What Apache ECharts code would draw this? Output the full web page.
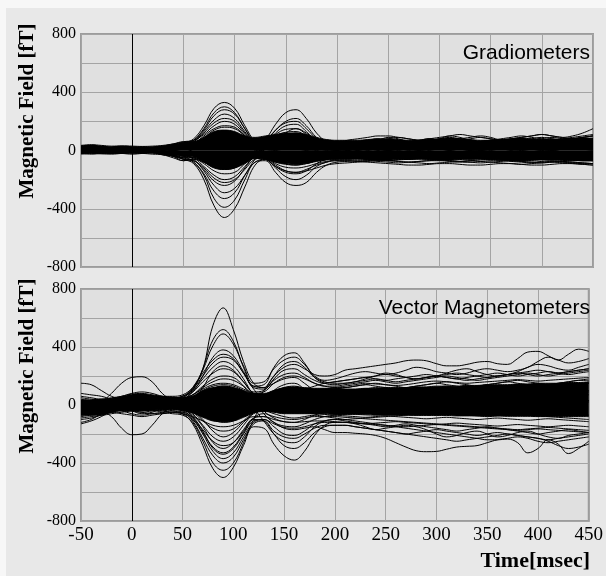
<!DOCTYPE html>
<html lang="en">
<head>
    <meta charset="UTF-8">
    <title>MEG butterfly plot</title>
    <script src="https://cdn.jsdelivr.net/npm/echarts@6/dist/echarts.min.js"></script>
    <style>
        html, body { margin: 0; padding: 0; background: #f7f7f7; }
        #bg { position: absolute; left: 6px; top: 8px; width: 600px; height: 568px; background: #e8e8e8; }
        #main { position: absolute; left: 0; top: 0; width: 606px; height: 576px; }
    </style>
</head>
<body>
<div id="bg"></div>
<div id="main"></div>

<script>
    // time axis (msec), one sample every 10 ms
    var times = [-50,-40,-30,-20,-10,0,10,20,30,40,50,60,70,80,90,100,110,120,130,140,150,160,170,180,190,200,
        210,220,230,240,250,260,270,280,290,300,310,320,330,340,350,360,370,380,390,400,410,420,430,440,450];

    // dense band of the gradiometer traces (upper / lower edge)
    var gradCoreHi = [35,40,35,30,32,30,28,30, 35,45,55,60,90,130,140,130,100,90,100,110,120,120,110,90,75,70,
        70,70,75,80,80,75,70,70,75,80, 85,80,75,70,70,75,80,85,80,75, 75,80,85,85,85];
    var gradCoreLo = [-15,-15,-18,-20,-18,-15,-15,-18, -25,-35,-40,-45,-80,-120,-130,-120,-90,-55,-60,-80,-90,-95,-90,-75,-65,-60,
        -60,-60,-62,-65,-65,-62,-60,-60,-62,-65, -65,-62,-60,-60,-62,-65,-68,-70,-68,-65, -65,-68,-70,-70,-70];

    // single gradiometer channels (fT)
    var g01 = [10,15,12,8,10,12,15,10, 20,30,50,80,170,290,330,290,170,60,20,60,120,150,110,50,30,20, 30,50,60,70,90,80,60,50,60,80, 100,90,70,60,60,70,80,90,100,110, 100,90,100,120,150];
    var g02 = [-5,-10,-8,-5,-10,-8,-5,-10, -15,-30,-60,-90,-200,-380,-460,-400,-250,-100,-60,-120,-180,-200,-170,-110,-80,-70, -70,-75,-80,-85,-90,-95,-100,-100,-95,-90, -90,-95,-100,-100,-95,-90,-90,-95,-100,-100, -95,-90,-90,-95,-100];
    var g03 = [20,18,15,12,10,12,15,10, 0,-20,-40,-80,-170,-330,-390,-340,-200,-80,-70,-150,-220,-240,-220,-150,-100,-80, -75,-70,-70,-75,-80,-85,-80,-75,-70,-70, -75,-80,-80,-75,-70,-70,-75,-80,-85,-80, -75,-80,-85,-90,-90];
    var g04 = [25,28,20,18,22,20,18,15, 20,30,40,70,150,260,300,260,150,60,80,180,260,280,220,120,60,40, 40,50,60,70,80,90,80,70,60,60, 70,80,90,100,90,70,60,60,70,80, 90,80,70,70,80];
    var g05 = [0,5,10,5,0,5,10,5, 10,20,40,60,130,210,250,220,130,50,60,140,200,220,170,90,50,40, 50,60,70,60,50,50,60,70,80,70, 60,50,50,60,70,60,50,50,60,70, 80,70,60,60,70];
    var g06 = [-15,-10,-12,-15,-10,-12,-15,-10, -20,-30,-50,-80,-160,-280,-330,-290,-170,-60,10,60,100,120,90,40,10,0, -10,-20,-30,-40,-30,-20,-10,-20,-30,-40, -50,-40,-30,-20,-30,-40,-50,-60,-50,-40, -30,-40,-50,-60,-60];
    var g07 = [5,0,-5,0,5,0,-5,0, -10,-20,-30,-60,-140,-240,-290,-260,-170,-80,-60,-100,-140,-150,-130,-100,-80,-60, -60,-55,-60,-65,-60,-50,-45,-50,-55,-60, -60,-55,-50,-45,-50,-55,-60,-60,-55,-50, -55,-60,-65,-70,-70];
    var g08 = [15,10,8,10,12,10,8,10, 20,40,60,70,110,170,200,180,110,40,-20,-60,-90,-100,-80,-40,-10,0, 10,20,30,40,50,40,30,20,30,40, 50,60,50,40,30,20,30,40,50,40, 30,40,50,60,60];
    var g09 = [-20,-18,-22,-20,-15,-18,-20,-15, -20,-30,-60,-70,-130,-210,-240,-210,-120,-30,40,120,170,180,130,60,20,10, 0,10,20,10,0,-10,0,10,20,30, 20,10,0,10,20,30,40,30,20,10, 20,30,40,30,20];
    var g10 = [30,25,20,22,25,20,18,20, 30,45,60,60,90,140,160,150,100,40,30,60,90,100,80,40,20,20, 30,40,50,60,70,60,50,50,60,70, 80,70,60,50,50,60,70,60,50,50, 60,70,80,90,100];
    var g11 = [0,-5,-10,-5,0,-5,-10,-5, -20,-40,-70,-60,-110,-170,-200,-180,-110,-40,-20,-40,-55,-60,-50,-30,-20,-20, -20,-15,-10,-20,-30,-25,-20,-15,-20,-25, -30,-20,-10,-15,-20,-25,-30,-25,-20,-15, -20,-25,-30,-35,-40];
    var g12 = [10,12,15,12,10,8,10,12, 10,0,-10,10,60,100,120,110,70,20,-20,-50,-70,-80,-60,-30,-10,0, 10,0,-10,0,10,20,10,0,10,20, 30,20,10,0,10,20,10,0,10,20, 30,20,10,20,30];
    var g13 = [-10,-5,0,-5,-10,-5,0,-5, -10,-20,-40,-50,-90,-140,-160,-150,-90,-30,10,40,55,60,50,30,20,10, 10,0,-10,-20,-10,0,10,0,-10,-20, -30,-20,-10,0,-10,-20,-30,-20,-10,0, -10,-20,-30,-20,-10];
    var g14 = [20,15,10,15,20,15,10,15, 20,25,20,30,50,70,80,75,50,20,20,30,40,40,30,20,30,50, 70,80,90,100,100,90,80,70,80,90, 100,110,100,90,80,70,80,90,100,110, 100,90,80,90,100];
    var g15 = [-25,-20,-22,-25,-20,-18,-20,-25, -30,-50,-70,-60,-80,-110,-120,-110,-80,-50,-60,-110,-140,-150,-140,-120,-100,-90, -85,-80,-75,-70,-70,-75,-80,-85,-90,-85, -80,-75,-70,-75,-80,-85,-90,-95,-90,-85, -80,-85,-90,-95,-100];
    var g16 = [-5,0,5,0,-5,0,5,0, 10,20,30,40,50,60,60,50,30,10,-10,-20,-30,-30,-20,-10,0,10, 20,30,20,10,0,10,20,30,20,10, 0,-10,0,10,20,30,40,30,20,10, 0,10,20,30,40];
    var g17 = [10,5,0,5,10,5,0,5, 0,-10,-20,-30,-50,-70,-80,-70,-40,0,60,140,190,200,150,80,40,30, 30,40,50,40,30,40,50,60,70,60, 50,40,30,40,50,60,50,40,30,40, 50,60,70,60,50];
    var g18 = [0,5,10,8,5,0,5,10, 5,0,10,20,30,40,40,30,20,10,10,20,20,20,10,0,-10,-10, 0,10,0,-10,0,10,20,10,0,-10, 0,10,20,10,0,-10,0,10,20,10, 0,10,20,10,0];
    var g19 = [15,20,25,20,15,20,25,20, 10,0,-10,-20,-30,-40,-40,-35,-25,-15,-20,-25,-30,-30,-25,-20,-20,-30, -40,-50,-40,-30,-40,-50,-60,-50,-40,-30, -40,-50,-60,-50,-40,-50,-60,-70,-60,-50, -40,-50,-60,-70,-70];
    var g20 = [-10,-8,-5,-8,-10,-12,-10,-8, 0,20,50,70,140,240,280,250,150,50,10,0,-10,-10,0,10,20,30, 40,30,20,30,40,50,40,30,20,30, 40,50,60,50,40,30,40,50,60,50, 40,30,40,50,60];
    var g21 = [5,10,15,10,5,10,15,10, 15,25,40,60,120,190,220,200,120,50,50,100,125,130,100,50,30,20, 30,40,50,40,30,40,50,60,50,40, 30,40,50,60,70,60,50,40,50,60, 70,60,50,60,70];
    var g22 = [-5,-8,-10,-12,-10,-8,-5,-8, -20,-40,-60,-70,-120,-190,-220,-200,-130,-60,-50,-80,-95,-100,-90,-70,-60,-50, -50,-45,-40,-45,-50,-55,-60,-55,-50,-45, -40,-45,-50,-55,-60,-65,-60,-55,-50,-45, -50,-55,-60,-65,-70];
    var g23 = [20,18,15,18,20,22,20,18, 10,10,20,40,70,90,100,90,60,10,-50,-110,-150,-160,-140,-90,-60,-50, -50,-55,-60,-65,-70,-65,-60,-55,-60,-65, -70,-75,-70,-65,-60,-65,-70,-75,-80,-75, -70,-75,-80,-85,-90];
    var g24 = [-20,-15,-10,-15,-20,-15,-10,-15, -25,-35,-50,-50,-70,-90,-100,-90,-60,-10,50,110,145,150,120,70,50,40, 50,60,70,80,70,60,50,60,70,80, 90,80,70,60,70,80,90,100,90,80, 70,80,90,100,110];
    var g25 = [10,15,20,15,10,15,20,15, 20,30,40,50,100,150,170,160,100,40,30,50,65,70,60,40,30,30, 40,50,60,70,60,50,60,70,80,70, 60,70,80,90,80,70,60,70,80,90, 80,70,80,90,100];
    var g26 = [-20,-25,-20,-15,-20,-25,-20,-15, -30,-40,-50,-50,-80,-115,-130,-120,-80,-40,-50,-90,-115,-120,-110,-90,-75,-70, -70,-75,-70,-65,-70,-75,-80,-75,-70,-65, -70,-75,-80,-85,-80,-75,-70,-75,-80,-85, -80,-75,-80,-85,-90];

    // dense band of the vector magnetometer traces
    var vecCoreHi = [35,35,40,45,60,75,80,70, 60,55,50,60,100,120,130,120,100,80,80,100,120,125,120,115,115,115,
        110,110,115,115,120,120,120,125,125,130, 130,130,135,135,140,140,140,145,145,150, 150,150,155,155,160];
    var vecCoreLo = [-70,-70,-65,-50,-40,-40,-40,-35, -30,-30,-40,-55,-85,-110,-115,-110,-85,-55,-45,-50,-60,-60,-60,-60,-60,-65,
        -65,-65,-68,-70,-70,-70,-70,-72,-72,-72, -72,-75,-75,-75,-75,-75,-78,-78,-78,-80, -80,-80,-80,-80,-80];

    // single vector magnetometer channels (fT)
    var v01 = [0,10,20,10,0,20,30,20, 10,20,40,120,250,550,670,520,300,150,120,150,180,190,150,100,80,80, 90,100,110,120,110,100,90,100,110,120, 130,120,110,100,110,120,130,140,130,120, 110,120,130,140,150];
    var v02 = [-20,-10,0,10,20,40,50,40, 20,10,30,100,250,450,520,440,260,130,140,260,340,360,290,190,150,140, 150,160,180,200,220,210,190,180,190,200, 220,240,250,230,210,200,210,230,260,280, 270,250,240,260,280];
    var v03 = [30,20,10,20,40,60,70,60, 40,30,50,110,240,410,490,420,270,150,160,250,310,330,280,200,170,180, 200,220,230,220,210,220,240,260,250,230, 220,210,220,240,250,240,230,240,260,300, 330,310,290,300,320];
    var v04 = [150,140,100,60,40,30,40,50, 60,60,70,120,220,310,350,320,220,130,120,200,260,280,250,210,200,210, 240,250,260,270,280,290,305,310,305,285, 270,270,280,295,300,285,280,320,365,370, 340,310,350,385,370];
    var v05 = [-20,-10,20,80,150,190,195,160, 80,30,0,30,120,230,270,240,160,80,60,90,120,130,110,80,60,60, 70,80,70,60,50,60,70,80,90,80, 70,60,50,60,70,80,70,60,50,60, 70,80,90,80,70];
    var v06 = [-20,-30,-40,-80,-160,-205,-200,-140, -60,-20,-30,-80,-180,-300,-340,-300,-200,-110,-100,-150,-200,-210,-180,-130,-110,-100, -110,-120,-130,-140,-150,-140,-130,-140,-150,-160, -170,-180,-170,-160,-150,-160,-170,-180,-190,-200, -190,-180,-170,-180,-190];
    var v07 = [-120,-100,-60,-30,-20,-40,-60,-50, -30,-40,-60,-130,-280,-440,-500,-430,-280,-150,-160,-270,-350,-380,-320,-210,-140,-120, -120,-130,-150,-170,-160,-150,-140,-150,-170,-200, -220,-210,-190,-180,-200,-220,-210,-190,-180,-200, -220,-230,-210,-200,-190];
    var v08 = [-130,-110,-80,-40,-10,0,-10,-30, -50,-60,-70,-120,-250,-400,-450,-400,-260,-100,20,100,140,150,110,60,30,20, 10,0,-10,-20,-10,0,10,0,-10,-20, -30,-20,-10,0,10,20,10,0,-10,-20, -10,0,10,20,30];
    var v09 = [-60,-50,-40,-30,-40,-60,-70,-60, -50,-40,-50,-110,-230,-350,-400,-360,-240,-130,-110,-180,-220,-230,-200,-160,-140,-140, -140,-150,-160,-170,-180,-190,-200,-210,-220,-230, -240,-250,-240,-230,-220,-210,-200,-210,-220,-230, -240,-230,-220,-210,-200];
    var v10 = [-30,-20,-10,-20,-30,-40,-50,-40, -30,-20,-30,-70,-150,-260,-300,-260,-170,-90,-80,-120,-160,-170,-160,-150,-170,-190, -190,-195,-200,-210,-230,-260,-290,-315,-322,-320, -305,-290,-285,-280,-260,-240,-230,-220,-230,-250, -260,-250,-240,-230,-220];
    var v11 = [10,0,-10,0,10,0,-10,0, 10,0,-20,-40,-100,-180,-220,-190,-120,-60,-40,-60,-80,-90,-80,-70,-80,-90, -100,-110,-120,-130,-140,-150,-160,-170,-180,-190, -200,-210,-220,-230,-240,-240,-235,-260,-330,-300, -240,-270,-335,-300,-250];
    var v12 = [60,50,40,50,60,80,90,80, 60,50,60,100,180,260,300,270,180,60,-40,-90,-115,-120,-100,-70,-50,-40, -30,-20,-10,0,10,20,30,20,10,0, 10,20,30,40,50,40,30,20,30,40, 50,60,50,40,30];
    var v13 = [-40,-30,-20,0,20,30,20,10, 20,40,60,90,160,220,250,230,160,90,100,180,240,250,210,170,150,160, 170,180,190,200,210,200,190,180,190,200, 210,220,210,200,190,200,210,220,230,240, 230,220,230,240,250];
    var v14 = [-90,-80,-70,-50,-30,-20,-30,-40, -40,-30,-40,-90,-190,-290,-330,-290,-190,-90,-60,-80,-95,-100,-90,-80,-80,-80, -85,-90,-95,-100,-105,-110,-115,-120,-125,-130, -135,-140,-145,-150,-155,-160,-165,-170,-165,-160, -155,-160,-165,-170,-175];
    var v15 = [-70,-60,-40,-20,0,20,30,40, 50,50,50,70,120,160,180,170,130,80,90,150,190,200,180,150,130,120, 120,130,140,150,140,130,120,130,140,150, 160,150,140,130,140,150,160,170,160,150, 140,150,160,170,180];
    var v16 = [40,30,20,0,-20,-30,-40,-30, -20,-10,-20,-60,-140,-220,-250,-220,-140,-50,20,60,75,80,60,40,30,30, 40,50,60,70,60,50,40,50,60,70, 80,70,60,50,60,70,80,90,80,70, 60,70,80,90,100];
    var v17 = [-50,-40,-30,-20,-10,0,10,0, -10,-20,-10,20,70,110,130,120,70,-20,-110,-200,-250,-260,-220,-150,-110,-100, -100,-95,-90,-85,-80,-75,-70,-65,-60,-55, -60,-65,-70,-75,-80,-75,-70,-65,-70,-75, -80,-85,-90,-95,-100];
    var v18 = [20,30,20,10,0,-10,0,10, 0,-10,-20,-50,-110,-160,-180,-165,-110,-50,-30,-40,-50,-50,-40,-30,-30,-40, -50,-40,-30,-20,-30,-40,-50,-40,-30,-20, -30,-40,-50,-60,-50,-40,-30,-40,-50,-60, -70,-60,-50,-60,-70];
    var v19 = [80,70,60,40,20,10,20,30, 40,50,40,50,70,85,90,85,70,60,70,100,115,120,110,100,100,110, 120,130,140,130,120,110,120,130,140,150, 140,130,120,130,140,150,160,150,140,130, 140,150,160,170,170];
    var v20 = [10,20,30,40,50,60,50,40, 30,40,60,110,200,290,330,310,220,110,50,50,55,60,60,60,70,80, 90,100,110,100,90,80,90,100,110,120, 110,100,90,100,110,120,130,120,110,100, 110,120,130,140,150];
    var v21 = [-100,-90,-70,-50,-40,-40,-50,-60, -60,-50,-50,-90,-170,-250,-280,-260,-180,-100,-110,-200,-280,-300,-260,-190,-150,-140, -140,-150,-160,-170,-180,-190,-200,-190,-180,-170, -180,-190,-200,-210,-200,-190,-200,-210,-220,-230, -250,-280,-300,-290,-270];
    var v22 = [-10,0,10,0,-10,0,10,20, 10,0,10,20,40,50,50,45,35,25,20,20,20,20,30,40,50,60, 70,60,50,60,70,80,70,60,50,60, 70,80,90,80,70,60,70,80,90,100, 90,80,70,80,90];
    var v23 = [20,30,40,30,20,40,60,50, 30,20,40,90,200,330,380,340,230,120,110,170,210,220,190,150,130,130, 140,150,160,170,160,150,160,170,180,190, 200,190,180,170,180,190,200,210,220,210, 200,210,220,230,240];
    var v24 = [-80,-70,-60,-50,-60,-70,-80,-70, -60,-50,-60,-100,-200,-320,-370,-330,-220,-120,-100,-130,-155,-160,-150,-130,-120,-120, -120,-125,-130,-135,-140,-145,-150,-145,-140,-135, -140,-145,-150,-155,-160,-165,-170,-175,-170,-165, -170,-175,-180,-185,-190];
    var v25 = [-40,-50,-40,-30,-20,-10,0,10, 20,30,40,70,130,180,200,190,130,40,-60,-120,-145,-150,-130,-100,-80,-70, -60,-50,-40,-30,-20,-10,0,-10,-20,-30, -20,-10,0,10,20,10,0,-10,0,10, 20,30,40,30,20];
    var v26 = [50,40,30,20,10,20,30,20, 10,0,0,-20,-60,-100,-120,-110,-70,0,100,200,280,300,260,190,160,150, 150,160,170,180,170,160,170,180,190,200, 190,180,170,180,190,200,210,220,210,200, 210,220,230,240,250];
    var v27 = [0,10,20,30,40,50,60,50, 40,30,40,70,110,140,150,140,110,80,70,90,100,100,110,130,150,160, 170,180,190,180,170,180,190,200,210,200, 190,180,190,200,210,220,210,200,210,220, 230,220,210,220,230];
    var v28 = [-60,-50,-40,-30,-20,-10,-20,-30, -40,-50,-60,-80,-110,-140,-150,-140,-110,-80,-80,-100,-115,-120,-115,-110,-110,-115, -120,-125,-130,-125,-120,-115,-120,-125,-130,-135, -130,-125,-130,-135,-140,-145,-140,-135,-140,-145, -150,-145,-140,-145,-150];
    var v29 = [-30,-20,-10,0,10,30,50,40, 30,20,30,60,100,130,140,130,100,60,60,80,95,100,100,105,110,120, 130,140,150,145,140,135,140,150,160,165, 160,155,150,155,160,165,170,175,170,165, 170,175,180,185,190];
    var v30 = [-50,-60,-70,-60,-50,-40,-30,-20, -10,-20,-30,-50,-80,-100,-110,-100,-70,-40,-30,-40,-50,-55,-55,-60,-65,-70, -75,-80,-85,-80,-75,-80,-85,-90,-95,-90, -85,-90,-95,-100,-95,-90,-95,-100,-105,-100, -95,-100,-105,-110,-115];

    var yTicks = [-800, -400, 0, 400, 800];

    var gradList = [g01,g02,g03,g04,g05,g06,g07,g08,g09,g10,g11,g12,g13,g14,g15,g16,g17,g18,g19,g20,g21,g22,g23,g24,g25,g26];
    var vecList = [v01,v02,v03,v04,v05,v06,v07,v08,v09,v10,v11,v12,v13,v14,v15,v16,v17,v18,v19,v20,
        v21,v22,v23,v24,v25,v26,v27,v28,v29,v30];

    var serif = '"Liberation Serif", "Times New Roman", serif';
    var sans = '"Liberation Sans", Arial, sans-serif';

    function pairs(arr) {
        return times.map(function (t, i) { return [t, arr[i]]; });
    }

    // band drawn as two areas filled to zero
    function coreSeries(arr, idx, withZero) {
        var s = {
            type: 'line', xAxisIndex: idx, yAxisIndex: idx,
            data: pairs(arr), smooth: 0.4, symbol: 'none', silent: true,
            lineStyle: {color: '#000', width: 1},
            areaStyle: {color: '#000', opacity: 1},
            z: 2
        };
        if (withZero) {
            s.markLine = {
                silent: true, symbol: 'none', label: {show: false},
                lineStyle: {color: '#000', width: 1, type: 'solid'},
                data: [{xAxis: 0}]
            };
        }
        return s;
    }

    function traceSeries(arr, idx) {
        return {
            type: 'line', xAxisIndex: idx, yAxisIndex: idx,
            data: pairs(arr), smooth: 0.4, symbol: 'none', silent: true,
            lineStyle: {color: '#000', width: 1},
            z: 3
        };
    }

    var series = [];
    series.push(coreSeries(gradCoreHi, 0, true));
    series.push(coreSeries(gradCoreLo, 0, false));
    gradList.forEach(function (a) { series.push(traceSeries(a, 0)); });
    series.push(coreSeries(vecCoreHi, 1, true));
    series.push(coreSeries(vecCoreLo, 1, false));
    vecList.forEach(function (a) { series.push(traceSeries(a, 1)); });

    function xAx(idx, showLabel) {
        return {
            type: 'value', gridIndex: idx, min: -50, max: 450, interval: 50,
            axisLine: {show: false}, axisTick: {show: false},
            axisLabel: {show: showLabel, fontFamily: serif, fontSize: 19, color: '#000', margin: 5},
            splitLine: {show: true, lineStyle: {color: '#a4a4a4', width: 1}}
        };
    }

    function yAx(idx) {
        return {
            type: 'value', gridIndex: idx, min: -800, max: 800, interval: 200,
            axisLine: {show: false}, axisTick: {show: false},
            axisLabel: {
                fontFamily: serif, fontSize: 16, color: '#000', margin: 5,
                formatter: function (v) { return yTicks.indexOf(v) >= 0 ? String(v) : ''; }
            },
            splitLine: {show: true, lineStyle: {color: '#a4a4a4', width: 1}}
        };
    }

    var myChart = echarts.init(document.getElementById('main'));

    var option = {
        animation: false,
        backgroundColor: 'transparent',
        grid: [
            {left: 81, top: 34, width: 512, height: 233, show: true, backgroundColor: '#e0e0e0', borderColor: '#9c9c9c', borderWidth: 2},
            {left: 81, top: 289, width: 512, height: 232, show: true, backgroundColor: '#e0e0e0', borderColor: '#9c9c9c', borderWidth: 2}
        ],
        xAxis: [xAx(0, false), xAx(1, true)],
        yAxis: [yAx(0), yAx(1)],
        series: series,
        graphic: [
            {type: 'text', x: 590, y: 53, z: 10,
                style: {text: 'Gradiometers', font: '21px ' + sans, fill: '#000', textAlign: 'right', textVerticalAlign: 'middle'}},
            {type: 'text', x: 590, y: 308, z: 10,
                style: {text: 'Vector Magnetometers', font: '21px ' + sans, fill: '#000', textAlign: 'right', textVerticalAlign: 'middle'}},
            {type: 'text', x: 28, y: 111, rotation: Math.PI / 2, z: 10,
                style: {text: 'Magnetic Field [fT]', font: 'bold 21px ' + serif, fill: '#000', textAlign: 'center', textVerticalAlign: 'middle'}},
            {type: 'text', x: 28, y: 366, rotation: Math.PI / 2, z: 10,
                style: {text: 'Magnetic Field [fT]', font: 'bold 21px ' + serif, fill: '#000', textAlign: 'center', textVerticalAlign: 'middle'}},
            {type: 'text', x: 590, y: 561, z: 10,
                style: {text: 'Time[msec]', font: 'bold 22px ' + serif, fill: '#000', textAlign: 'right', textVerticalAlign: 'middle'}}
        ]
    };

    myChart.setOption(option);
</script>
</body>
</html>
